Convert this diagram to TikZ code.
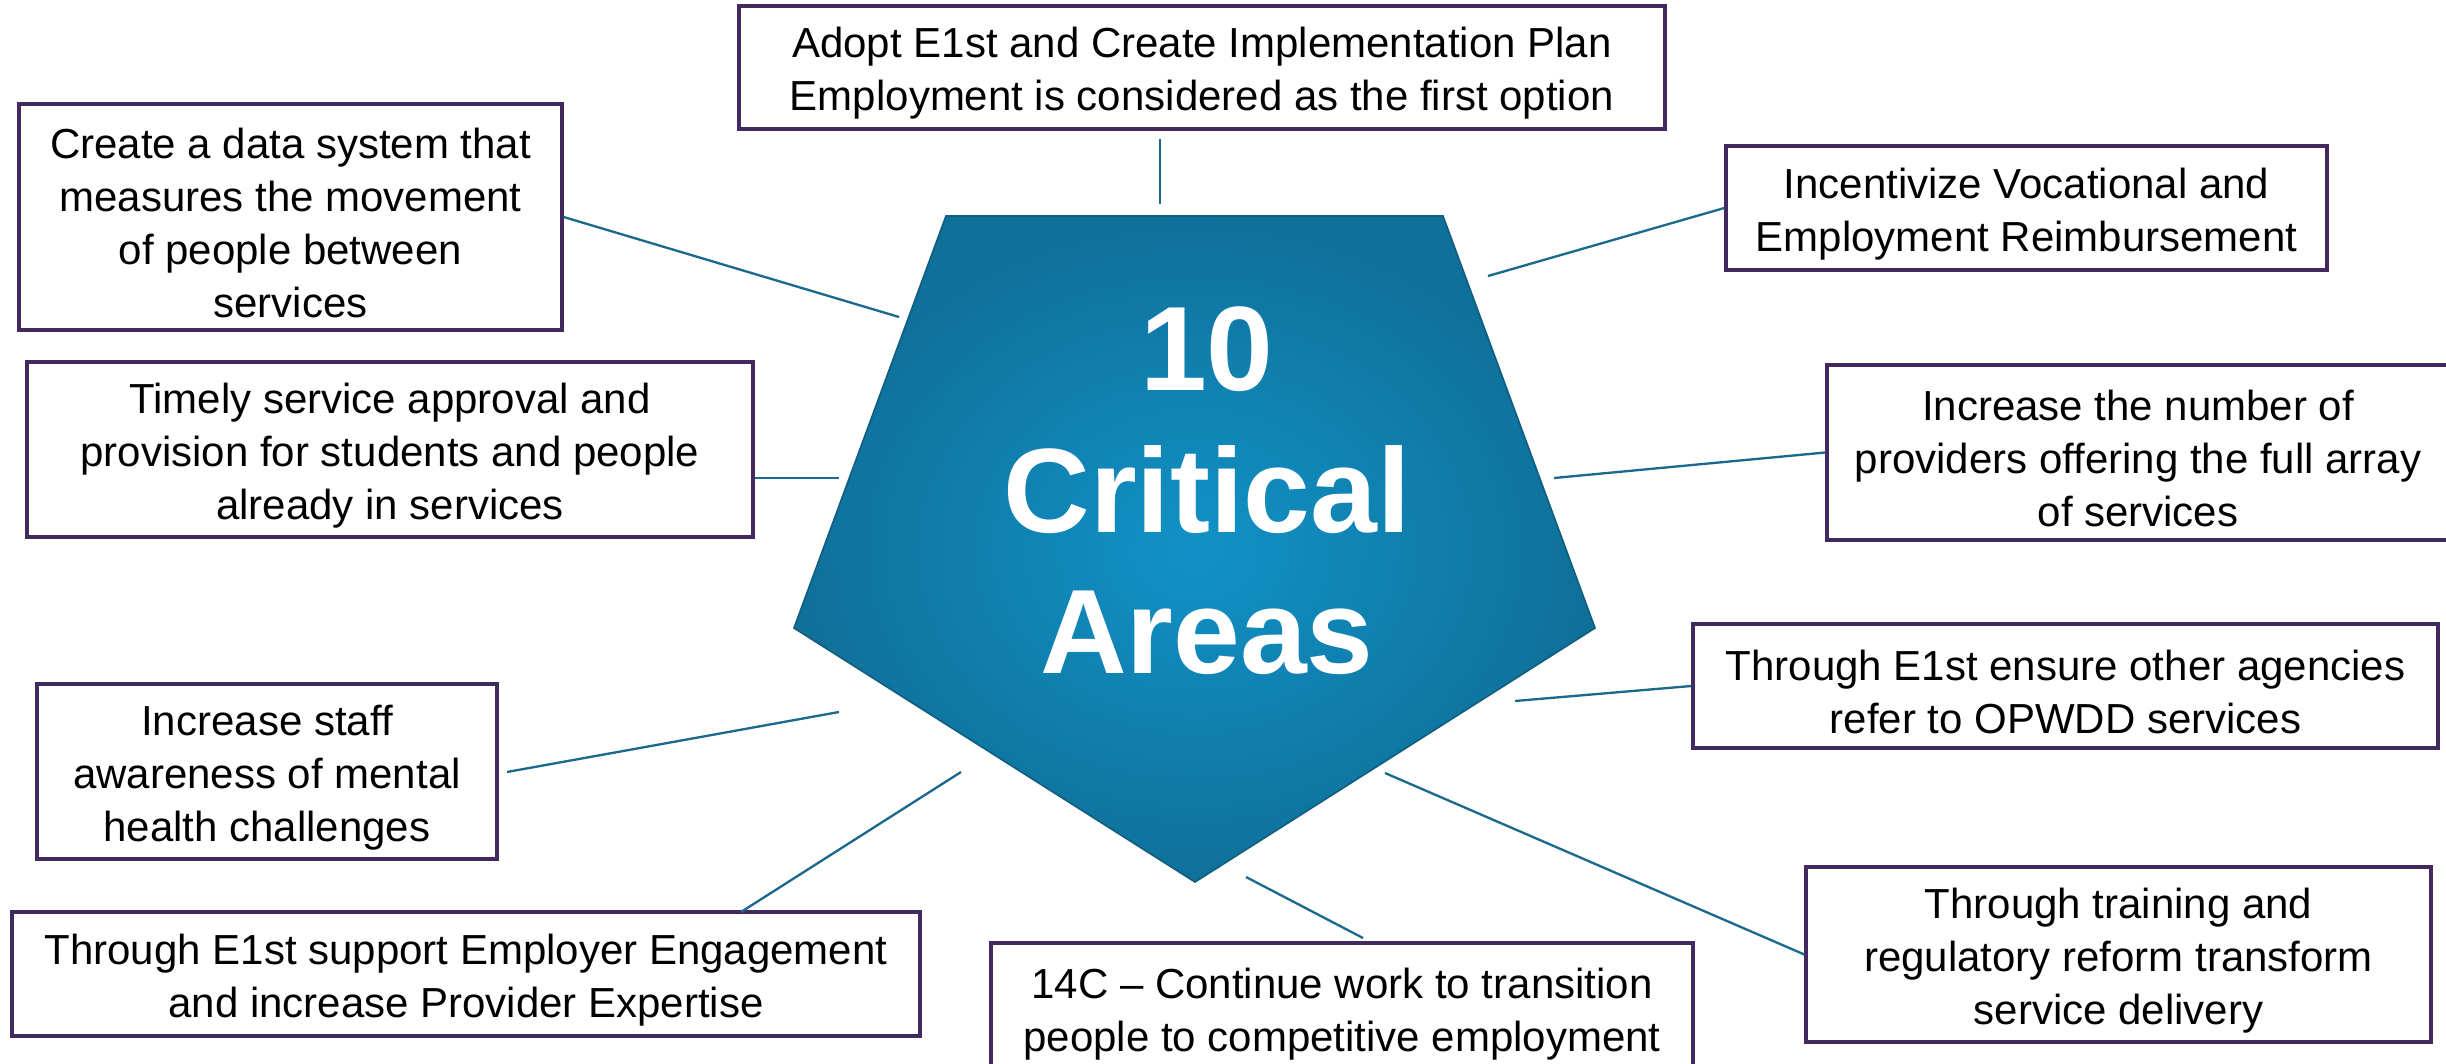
\documentclass[tikz,border=0pt]{standalone}
\usepackage{fontspec}
\setmainfont{Liberation Sans}
\definecolor{boxline}{HTML}{42295E}
\definecolor{linkline}{HTML}{1B6A8E}
\definecolor{pentlight}{HTML}{1192C6}
\definecolor{pentdark}{HTML}{0F709A}
\definecolor{pentedge}{HTML}{115E80}
\begin{document}
\begin{tikzpicture}[x=0.3pt,y=-0.3pt,
  box/.style={draw=boxline, line width=1pt, fill=white, inner sep=0pt},
  sz/.style 2 args={minimum width=#1*0.3pt, minimum height=#2*0.3pt},
  boxtext/.style={inner sep=0pt, align=center, text=black,
    font=\fontsize{12.6}{15.9}\selectfont},
  link/.style={draw=linkline, line width=0.7pt},
  core/.style={text=white, align=center,
    font=\fontsize{36}{42.5}\selectfont\bfseries}]
\useasboundingbox (0,0) rectangle (2446,1064);

% central pentagon
\coordinate (p1) at (946,216);
\coordinate (p2) at (1443,216);
\coordinate (p3) at (1595,628);
\coordinate (p4) at (1195,882);
\coordinate (p5) at (794,628);
\shadedraw[draw=pentedge, line width=0.5pt, inner color=pentlight, outer color=pentdark]
  (p1) -- (p2) -- (p3) -- (p4) -- (p5) -- cycle;
\node[core] (core) at (1207,491) {10\\Critical\\Areas};

% the ten area frames
\node[box, sz={926}{123}] (b1) at (1202,67.5) {};
\node[box, sz={543}{226}] (b2) at (290.5,217) {};
\node[box, sz={726}{175}] (b3) at (390,449.5) {};
\node[box, sz={460}{175}] (b4) at (267,771.5) {};
\node[box, sz={908}{124}] (b5) at (466,974) {};
\node[box, sz={702}{130}] (b6) at (1342,1008) {};
\node[box, sz={625}{175}] (b7) at (2118.5,954.5) {};
\node[box, sz={745}{124}] (b8) at (2065.5,686) {};
\node[box, sz={622}{175}] (b9) at (2138,452.5) {};
\node[box, sz={601}{124}] (b10) at (2026.5,208) {};

% their texts, set a little below the optical centre of each frame
\tikzset{txtshift/.style={yshift=-1.7pt}}
\node[boxtext, txtshift] (t1) at (b1.center)
  {Adopt E1st and Create Implementation Plan\\Employment is considered as the first option};
\node[boxtext, txtshift] (t2) at (b2.center)
  {Create a data system that\\measures the movement\\of people between\\services};
\node[boxtext, txtshift] (t3) at (b3.center)
  {Timely service approval and\\provision for students and people\\already in services};
\node[boxtext, txtshift] (t4) at (b4.center)
  {Increase staff\\awareness of mental\\health challenges};
\node[boxtext, txtshift] (t5) at (b5.center)
  {Through E1st support Employer Engagement\\and increase Provider Expertise};
\node[boxtext, txtshift] (t6) at (b6.center)
  {14C -- Continue work to transition\\people to competitive employment};
\node[boxtext, txtshift] (t7) at (b7.center)
  {Through training and\\regulatory reform transform\\service delivery};
\node[boxtext, txtshift] (t8) at (b8.center)
  {Through E1st ensure other agencies\\refer to OPWDD services};
\node[boxtext, txtshift] (t9) at (b9.center)
  {Increase the number of\\providers offering the full array\\of services};
\node[boxtext, txtshift] (t10) at (b10.center)
  {Incentivize Vocational and\\Employment Reimbursement};

% free ends of the connectors, next to the pentagon
\coordinate (s1) at (1160,139);  \coordinate (e1) at (1160,204);
\coordinate (e2) at (899,317);
\coordinate (e3) at (839,478);
\coordinate (s4) at (507,772);   \coordinate (e4) at (839,712);
\coordinate (s5) at (741,912);   \coordinate (e5) at (961,772);
\coordinate (s6) at (1363,938);  \coordinate (e6) at (1246,877);
\coordinate (e7) at (1385,773);
\coordinate (e8) at (1515,701);
\coordinate (e9) at (1554,478);
\coordinate (e10) at (1488,276);

\draw[link] (s1) -- (e1);
\draw[link] (b2.east) -- (e2);
\draw[link] (b3.east |- e3) -- (e3);
\draw[link] (s4) -- (e4);
\draw[link] (s5) -- (e5);
\draw[link] (s6) -- (e6);
\draw[link] (b7.west) -- (e7);
\draw[link] (b8.west) -- (e8);
\draw[link] (b9.west) -- (e9);
\draw[link] (b10.west) -- (e10);
\end{tikzpicture}
\end{document}
